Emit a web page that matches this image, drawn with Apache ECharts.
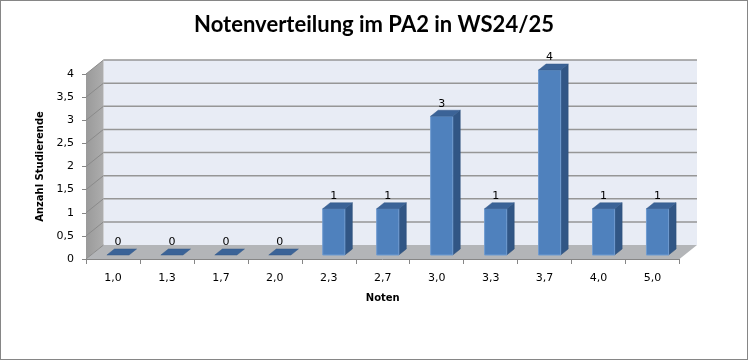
<!DOCTYPE html>
<html>
<head>
<meta charset="utf-8">
<script src="https://cdn.jsdelivr.net/npm/echarts@6/dist/echarts.min.js"></script>
<style>
html,body{margin:0;padding:0;background:#fff;}
#wrap{position:relative;width:748px;height:360px;}
#c{width:748px;height:360px;}
#frame{position:absolute;left:0;top:0;width:748px;height:360px;box-sizing:border-box;border:1px solid #868686;pointer-events:none;}
</style>
</head>
<body>
<div id="wrap"><div id="c"></div><div id="frame"></div></div>
<script>
// ---- data ----
const titleText = 'Notenverteilung im PA2 in WS24/25';
const categories = ['1,0','1,3','1,7','2,0','2,3','2,7','3,0','3,3','3,7','4,0','5,0'];
const counts = [0,0,0,0,1,1,3,1,4,1,1];
const yTicks = [0,0.5,1,1.5,2,2.5,3,3.5,4];
const yAxisName = 'Anzahl Studierende';
const xAxisName = 'Noten';

// ---- 3D styling ----
const DX = 17.5, DY = -14;         // depth of the plot box
const BAR_D0 = 4/14, BAR_D = 6/14; // bar depth position (fraction of box depth)
const BAR_W = 0.41;                // bar width as fraction of category band

const chart = echarts.init(document.getElementById('c'), null, {renderer:'canvas'});

function fmt(v){ return String(v).replace('.', ','); }

function renderWalls(params, api){
  const cs = params.coordSys;
  const x0 = cs.x, x1 = cs.x + cs.width;
  const yTop = api.coord([0, yTicks[yTicks.length-1]])[1];
  const yB = api.coord([0, 0])[1];
  const ch = [];
  ch.push({type:'polygon', shape:{points:[[x0+DX,yTop+DY],[x1+DX,yTop+DY],[x1+DX,yB+DY],[x0+DX,yB+DY]]},
    style:{fill:'#e8ecf5'}});
  ch.push({type:'polygon', shape:{points:[[x0,yTop],[x0+DX,yTop+DY],[x0+DX,yB+DY],[x0,yB]]},
    style:{fill:{type:'linear',x:0,y:0,x2:1,y2:0,colorStops:[{offset:0,color:'#9a9a9a'},{offset:1,color:'#adadad'}]}}});
  ch.push({type:'polygon', shape:{points:[[x0,yB],[x1,yB],[x1+DX,yB+DY],[x0+DX,yB+DY]]},
    style:{fill:'#b3b5b8'}});
  yTicks.forEach(function(v){
    const y = api.coord([0, v])[1];
    if (v > 0) {
      ch.push({type:'line', shape:{x1:x0+DX,y1:y+DY,x2:x1+DX,y2:y+DY}, style:{stroke:'#969696',lineWidth:1.5}});
    }
    ch.push({type:'line', shape:{x1:x0,y1:y,x2:x0+DX,y2:y+DY}, style:{stroke:'#8a8a8a',lineWidth:1}});
  });
  return {type:'group', children:ch};
}

function renderBar(params, api){
  const i = api.value(0), v = api.value(1);
  const band = api.size([1,0])[0];
  const c = api.coord([i, v]);
  const b = api.coord([i, 0]);
  const w = band * BAR_W;
  const ox = DX * BAR_D0, oy = DY * BAR_D0;
  const bdx = DX * BAR_D, bdy = DY * BAR_D;
  const xl = c[0] - w/2 + ox, xr = xl + w;
  const yT = c[1] + oy, yBt = b[1] + oy;
  const ch = [];
  if (yBt - yT > 0.1) {
    ch.push({type:'polygon', shape:{points:[[xr,yT],[xr+bdx,yT+bdy],[xr+bdx,yBt+bdy],[xr,yBt]]},
      style:{fill:'#315685', stroke:'#2c4e79', lineWidth:0.5}});
    ch.push({type:'rect', shape:{x:xl,y:yT,width:w,height:yBt-yT},
      style:{fill:'#4f81bd', stroke:'#6f9bd0', lineWidth:1}});
  }
  ch.push({type:'polygon', shape:{points:[[xl,yT],[xr,yT],[xr+bdx,yT+bdy],[xl+bdx,yT+bdy]]},
    style:{fill:'#3b6397', stroke:'#345a8a', lineWidth:0.5}});
  ch.push({type:'text', style:{text:fmt(v), x:xl + w/2, y:yT + bdy - 1, align:'center', verticalAlign:'bottom',
    fill:'#000', font:'11px "DejaVu Sans"'}});
  return {type:'group', children:ch};
}

const option = {
  backgroundColor:'#ffffff',
  animation:false,
  title:{text:titleText, left:'center', top:9,
    textStyle:{fontFamily:'Lato', fontWeight:'bold', fontSize:22, color:'#000'}},
  grid:{left:86, right:68.5, top:74, bottom:101, containLabel:false},
  xAxis:{type:'category', data:categories, boundaryGap:true,
    name:xAxisName, nameLocation:'middle', nameGap:34,
    nameTextStyle:{fontFamily:'DejaVu Sans', fontWeight:'bold', fontSize:10, color:'#000'},
    axisLine:{show:true, lineStyle:{color:'#868686', width:1}},
    axisTick:{show:true, length:5, alignWithLabel:false, lineStyle:{color:'#868686'}},
    axisLabel:{margin:14, fontFamily:'DejaVu Sans', fontSize:11, color:'#000'},
    splitLine:{show:false}},
  yAxis:{type:'value', min:0, max:4, interval:0.5,
    name:yAxisName, nameLocation:'middle', nameGap:40, nameRotate:90,
    nameTextStyle:{fontFamily:'DejaVu Sans', fontWeight:'bold', fontSize:10, color:'#000'},
    axisLine:{show:true, lineStyle:{color:'#868686', width:1}},
    axisTick:{show:true, length:4, lineStyle:{color:'#868686'}},
    axisLabel:{margin:12, fontFamily:'DejaVu Sans', fontSize:11, color:'#000', formatter:function(v){return fmt(v);}},
    splitLine:{show:false}},
  series:[
    {type:'custom', name:'walls', renderItem:renderWalls, data:[[0,0]], silent:true, z:1, clip:false},
    {type:'custom', name:'Anzahl', renderItem:renderBar, data:counts.map(function(v,i){return [i,v];}), z:2, clip:false,
     encode:{x:0,y:1}}
  ]
};
chart.setOption(option);
</script>
</body>
</html>
